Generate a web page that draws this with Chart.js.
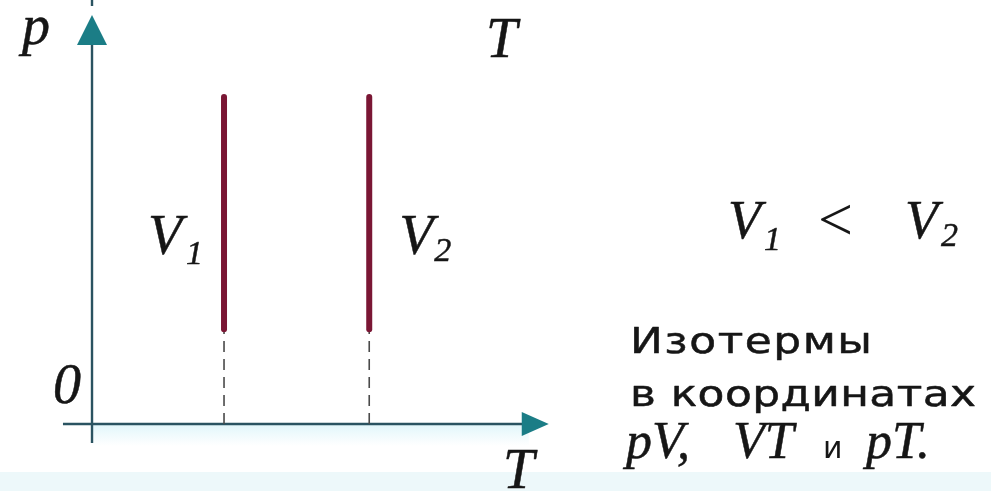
<!DOCTYPE html>
<html>
<head>
<meta charset="utf-8">
<script src="https://cdn.jsdelivr.net/npm/chart.js@4.4.1/dist/chart.umd.min.js"></script>
<style>
  html, body { margin: 0; padding: 0; background: #fff; }
  #wrap { width: 991px; height: 491px; position: relative; }
</style>
</head>
<body>
<div id="wrap"><canvas id="grafico"></canvas></div>
<script>
// isotherms on the p-T plane: T = const, drawn between pLow and pHigh
const isoT = [2, 4.2];
const isoNames = ['V', 'V'];
const isoSubs = ['1', '2'];
const pLow = [2.9, 2.9];
const pHigh = [10, 10];

// scale ranges (origin of the diagram is T = 0, p = 0)
const tMin = -1.394, tMax = 13.62;
const pMinAxis = -2.05, pMaxAxis = 12.97;

// axis extents, in data units
const axisT = [-0.44, 6.92];
const axisP = [-0.58, 12.51];

const solidColor = '#7a1634';
const axisColor = '#2a5361';
const arrowColor = '#1b7d86';
const inkColor = '#161616';
const serif = "'Liberation Serif', 'Times New Roman', serif";
const sans = "'DejaVu Sans', 'Liberation Sans', sans-serif";

const datasets = [];
isoT.forEach((t, i) => {
    datasets.push({
        data: [{ x: t, y: pLow[i] }, { x: t, y: pHigh[i] }],
        borderColor: solidColor,
        borderWidth: 6,
        borderCapStyle: 'round',
        showLine: true,
        pointRadius: 0
    });
    datasets.push({
        data: [{ x: t, y: 0 }, { x: t, y: pLow[i] }],
        borderColor: '#4a4a4a',
        borderWidth: 1.6,
        borderDash: [11, 7],
        showLine: true,
        pointRadius: 0
    });
});

// filled text with a thin outline so the glyphs come out a bit heavier
function ink(ctx, str, x, y) {
    ctx.fillText(str, x, y);
    ctx.strokeText(str, x, y);
}

// draws a line of text stretched a little and spaced out to a given width
function textFit(ctx, str, x, y, width, sx) {
    ctx.save();
    ctx.translate(x, y);
    ctx.scale(sx, 1);
    ctx.letterSpacing = '0px';
    const w = ctx.measureText(str).width;
    const n = Array.from(str).length;
    const sp = n > 1 ? (width / sx - w) / (n - 1) : 0;
    ctx.letterSpacing = sp + 'px';
    ink(ctx, str, 0, 0);
    ctx.restore();
}

function label(ctx, main, sub, x, y, size, subSize, subDx, subDy) {
    ctx.font = 'italic ' + size + 'px ' + serif;
    ink(ctx, main, x, y);
    ctx.font = 'italic ' + subSize + 'px ' + serif;
    ink(ctx, sub, x + subDx, y + subDy);
}

const diagram = {
    id: 'diagram',
    beforeDraw(chart) {
        const ctx = chart.ctx;
        ctx.save();
        ctx.fillStyle = '#ffffff';
        ctx.fillRect(0, 0, chart.width, chart.height);
        // pale strip along the bottom edge
        ctx.fillStyle = '#edf8fa';
        ctx.fillRect(0, 472, chart.width, chart.height - 472);
        ctx.restore();
    },
    beforeDatasetsDraw(chart) {
        const ctx = chart.ctx;
        const x = chart.scales.x, y = chart.scales.y;
        const x0 = x.getPixelForValue(0), y0 = y.getPixelForValue(0);
        const xa = x.getPixelForValue(axisT[0]), xb = x.getPixelForValue(axisT[1]);
        const ya = y.getPixelForValue(axisP[0]), yb = y.getPixelForValue(axisP[1]);
        ctx.save();
        // faint glow under the T axis
        const g = ctx.createLinearGradient(0, y0, 0, y0 + 22);
        g.addColorStop(0, 'rgba(200,238,246,0.55)');
        g.addColorStop(1, 'rgba(200,238,246,0)');
        ctx.fillStyle = g;
        ctx.fillRect(x0, y0, xb - x0 - 20, 22);

        ctx.strokeStyle = axisColor;
        ctx.lineWidth = 2.4;
        ctx.beginPath();
        ctx.moveTo(x0, ya);
        ctx.lineTo(x0, yb + 20);
        ctx.moveTo(xa, y0);
        ctx.lineTo(xb - 20, y0);
        ctx.moveTo(x0, 0);
        ctx.lineTo(x0, 6);
        ctx.stroke();

        ctx.fillStyle = arrowColor;
        ctx.beginPath();
        ctx.moveTo(x0, yb);
        ctx.lineTo(x0 - 15, yb + 30);
        ctx.lineTo(x0 + 15, yb + 30);
        ctx.closePath();
        ctx.fill();
        ctx.beginPath();
        ctx.moveTo(xb, y0);
        ctx.lineTo(xb - 27, y0 - 12);
        ctx.lineTo(xb - 27, y0 + 12);
        ctx.closePath();
        ctx.fill();
        ctx.restore();
    },
    afterDraw(chart) {
        const ctx = chart.ctx;
        const x = chart.scales.x, y = chart.scales.y;
        ctx.save();
        ctx.fillStyle = inkColor;
        ctx.strokeStyle = inkColor;
        ctx.lineWidth = 0.5;
        ctx.lineJoin = 'round';
        ctx.textBaseline = 'alphabetic';
        ctx.textAlign = 'left';

        ctx.font = 'italic 56px ' + serif;
        ink(ctx, 'p', 22, 44);
        ink(ctx, 'T', 486, 57);
        ink(ctx, '0', 53, 403);
        ink(ctx, 'T', 503, 488);

        // curve names beside each isotherm
        isoT.forEach((t, i) => {
            const px = x.getPixelForValue(t);
            const py = y.getPixelForValue((pLow[i] + pHigh[i]) / 2) + 41;
            const lx = i === 0 ? px - 76 : px + 30;
            label(ctx, isoNames[i], isoSubs[i], lx, py, 56, 34, i === 0 ? 38 : 35, i === 0 ? 10 : 7);
        });

        // V1 < V2
        label(ctx, 'V', '1', 728, 238, 54, 34, 36, 12);
        ctx.font = '62px ' + serif;
        ctx.fillText('<', 818, 240);
        label(ctx, 'V', '2', 905, 238, 54, 34, 36, 8);

        ctx.font = '36px ' + sans;
        ctx.lineWidth = 0.5;
        textFit(ctx, 'Изотермы', 630, 353, 242, 1.22);
        textFit(ctx, 'в координатах', 630, 406, 346, 1.22);

        ctx.font = 'italic 52px ' + serif;
        ink(ctx, 'pV,', 626, 458);
        ink(ctx, 'VT', 733, 458);
        ctx.font = '30px ' + sans;
        ctx.fillText('и', 823, 458);
        ctx.font = 'italic 52px ' + serif;
        ink(ctx, 'pT.', 866, 458);
        ctx.restore();
    }
};

const ctx = document.getElementById('grafico');

new Chart(ctx, {
    type: 'scatter',
    data: { datasets: datasets },
    options: {
        responsive: true,
        maintainAspectRatio: false,
        animation: false,
        layout: { padding: 0 },
        plugins: {
            legend: { display: false },
            tooltip: { enabled: false }
        },
        scales: {
            x: { type: 'linear', min: tMin, max: tMax, display: false },
            y: { type: 'linear', min: pMinAxis, max: pMaxAxis, display: false }
        }
    },
    plugins: [diagram]
});
</script>
</body>
</html>
